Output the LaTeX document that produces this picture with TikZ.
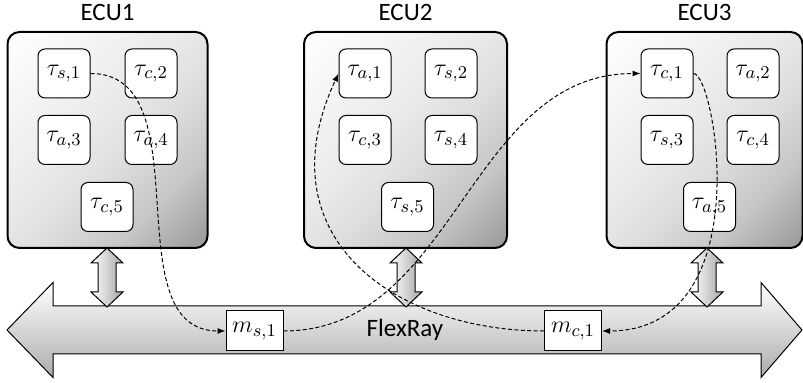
\documentclass[tikz,border=0pt]{standalone}
\usepackage{amsmath}
\usepackage[no-math]{fontspec}
\newfontfamily\ecufont{Carlito}
\usepackage{tikz}
\usetikzlibrary{positioning, arrows.meta}

\pgfdeclareverticalshading{ecushade}{100bp}{color(0bp)=(gray!80); color(15bp)=(gray!80);
  color(30bp)=(gray!45); color(45bp)=(gray!25); color(55bp)=(gray!17); color(85bp)=(white);
  color(100bp)=(white)}

\tikzset{
  ecu/.style={draw, line width=1pt, rounded corners=6pt, minimum width=100pt, minimum height=108pt,
    shade, shading=ecushade, shading angle=45},
  task/.style={draw, fill=white, line width=0.5pt, rounded corners=3.5pt, inner sep=0pt,
    minimum width=26pt, minimum height=24.5pt, font=\fontsize{13}{15}\selectfont},
  msg/.style={draw, fill=white, line width=0.5pt, inner sep=0pt,
    minimum width=28.5pt, minimum height=20pt, font=\fontsize{13}{15}\selectfont},
  ecuname/.style={inner sep=0pt, font=\ecufont\fontsize{12.5}{14}\selectfont},
  link/.style={draw, line width=0.5pt, left color=white, right color=gray!70},
  bus/.style={draw, line width=0.5pt, top color=white, bottom color=gray!65},
  flow/.style={-{Latex[length=4pt, width=3pt]}, dash pattern=on 2pt off 1.2pt, line width=0.5pt}
}

\begin{document}
\begin{tikzpicture}[x=0.5pt, y=0.5pt]
  \useasboundingbox (0,0) rectangle (803,383);

  % bus
  \path[bus] (7,53) -- (53,100.5) -- (53,77) -- (761,77) -- (761,100.5) -- (802,53)
    -- (761,5.5) -- (761,29) -- (53,29) -- (53,5.5) -- cycle;
  \node[ecuname] (flexray) at (405,53) {FlexRay};

  % links ECU <-> bus
  \path[link] (107,135) -- (123,120) -- (116,120) -- (116,91) -- (123,91) -- (107,76)
    -- (91,91) -- (98,91) -- (98,120) -- (91,120) -- cycle;
  \path[link] (406,135) -- (422,120) -- (415,120) -- (415,91) -- (422,91) -- (406,76)
    -- (390,91) -- (397,91) -- (397,120) -- (390,120) -- cycle;
  \path[link] (707,135) -- (723,120) -- (716,120) -- (716,91) -- (723,91) -- (707,76)
    -- (691,91) -- (698,91) -- (698,120) -- (691,120) -- cycle;

  % ECUs
  \node[ecu] (ecu1) at (107.5,243) {};
  \node[ecu, minimum width=101.5pt] (ecu2) at (405.5,243) {};
  \node[ecu, minimum width=98pt] (ecu3) at (704.5,243) {};
  \node[ecuname, above=5pt of ecu1] (ecu1name) {ECU1};
  \node[ecuname, above=5pt of ecu2] (ecu2name) {ECU2};
  \node[ecuname, above=5pt of ecu3] (ecu3name) {ECU3};

  % tasks
  \node[task] (t11) at (64,309.5) {$\tau_{s,1}$};
  \node[task] (t12) at (151,309.5) {$\tau_{c,2}$};
  \node[task] (t13) at (64,243) {$\tau_{a,3}$};
  \node[task] (t14) at (151,243) {$\tau_{a,4}$};
  \node[task] (t15) at (107,176) {$\tau_{c,5}$};

  \node[task] (t21) at (365,309.5) {$\tau_{a,1}$};
  \node[task] (t22) at (451,309.5) {$\tau_{s,2}$};
  \node[task] (t23) at (365,243) {$\tau_{c,3}$};
  \node[task] (t24) at (451,243) {$\tau_{s,4}$};
  \node[task] (t25) at (407.5,176) {$\tau_{s,5}$};

  \node[task] (t31) at (667,309.5) {$\tau_{c,1}$};
  \node[task] (t32) at (753,309.5) {$\tau_{a,2}$};
  \node[task] (t33) at (667,243) {$\tau_{s,3}$};
  \node[task] (t34) at (753,243) {$\tau_{c,4}$};
  \node[task] (t35) at (709.5,176) {$\tau_{a,5}$};

  % messages
  \node[msg] (ms1) at (254.5,52) {$m_{s,1}$};
  \node[msg] (mc1) at (573,52) {$m_{c,1}$};

  % chains
  \draw[flow] (t11.east) to[out=0, in=180] (ms1.west);
  \draw[flow] (ms1.east) to[out=0, in=180] (t31.west);
  \draw[flow] (t31.east) to[out=0, in=0, out distance=11pt, in distance=79pt] (mc1.east);
  \draw[flow] (mc1.west) to[out=180, in=245, out distance=75pt, in distance=90pt] (t21.west);
\end{tikzpicture}
\end{document}
